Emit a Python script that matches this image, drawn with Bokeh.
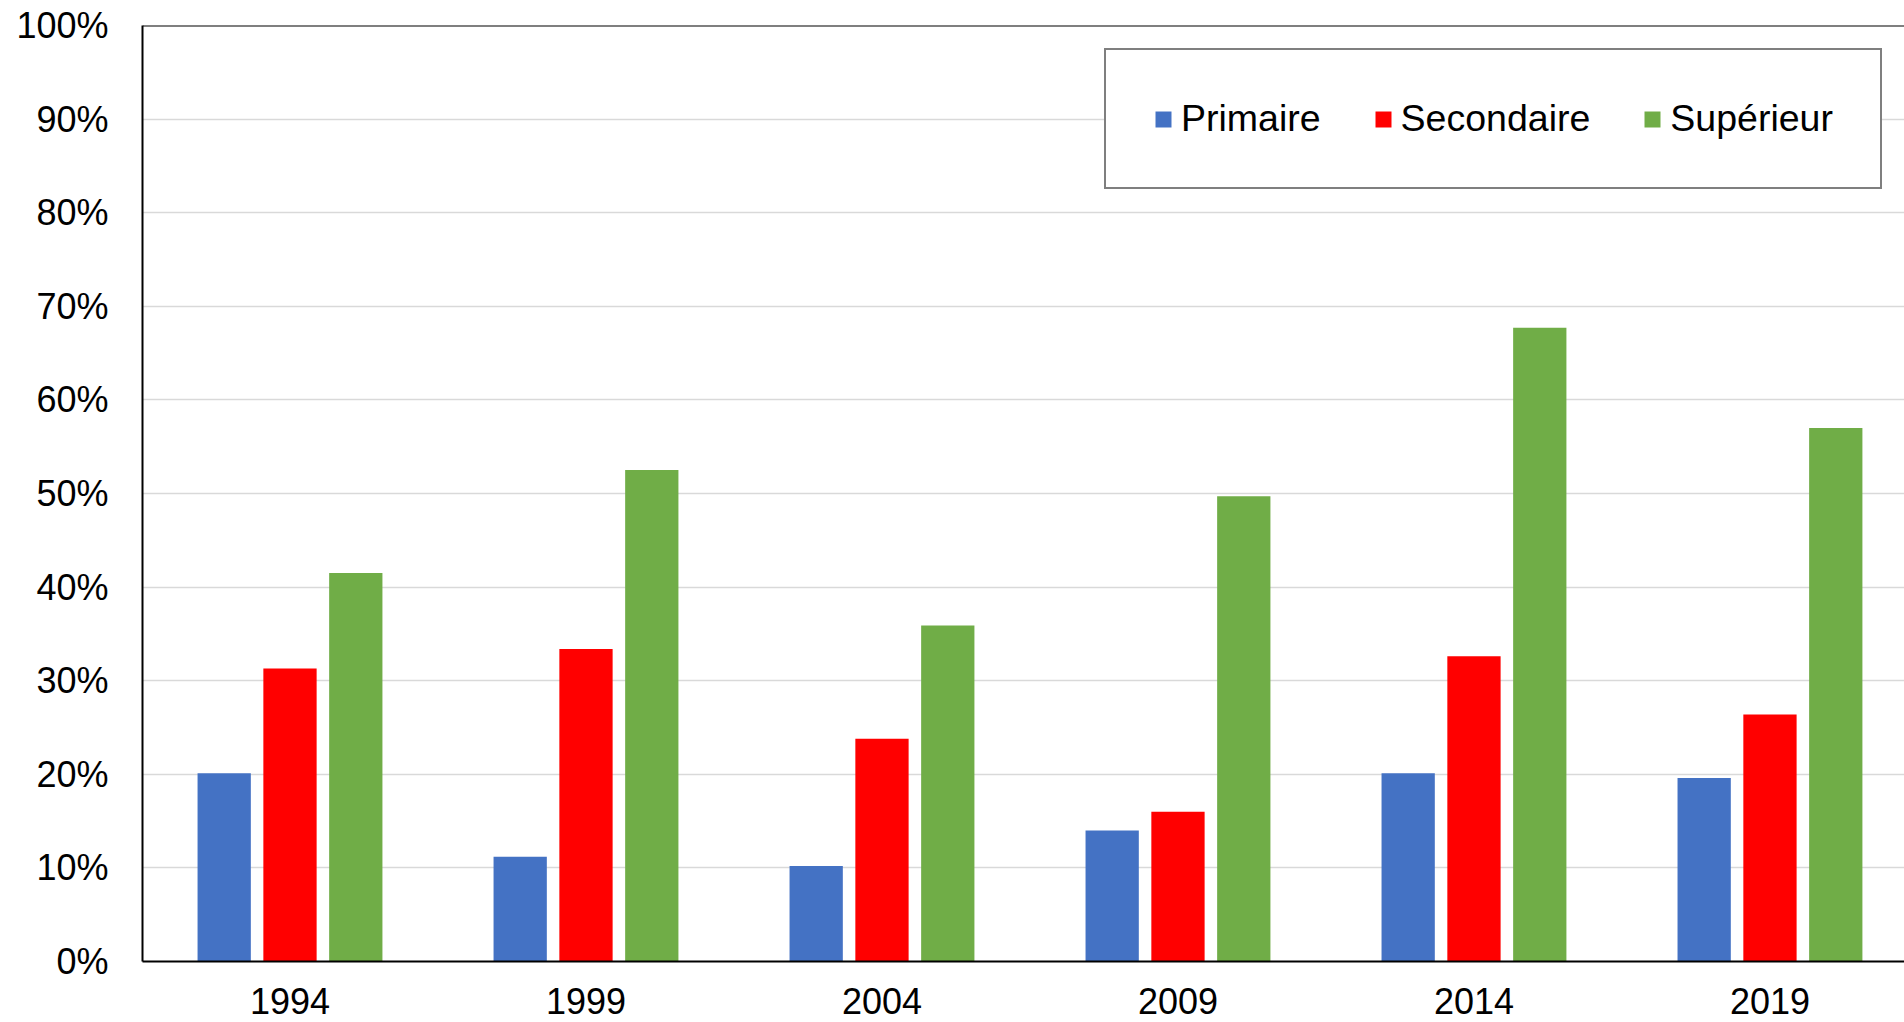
from bokeh.plotting import figure
from bokeh.models import ColumnDataSource, FixedTicker, PrintfTickFormatter, Legend, LegendItem, Span
from bokeh.transform import dodge
from bokeh.embed import file_html
from bokeh.resources import INLINE

years = ["1994", "1999", "2004", "2009", "2014", "2019"]
primaire = [20.1, 11.2, 10.2, 14.0, 20.1, 19.6]
secondaire = [31.3, 33.4, 23.8, 16.0, 32.6, 26.4]
superieur = [41.5, 52.5, 35.9, 49.7, 67.7, 57.0]
series_names = ["Primaire", "Secondaire", "Supérieur"]
colors = ["#4472C4", "#FF0000", "#70AD47"]
y_ticks = list(range(0, 101, 10))

FONT = "Liberation Sans"

x = list(range(len(years)))
src = ColumnDataSource(dict(x=x, p=primaire, s=secondaire, g=superieur))

p = figure(width=1904, height=1022, output_backend="svg", toolbar_location=None,
           x_range=(-0.4983, 5.4545), y_range=(0, 100),
           min_border_left=142, min_border_right=0, min_border_top=25, min_border_bottom=61)

off = 0.2223
bw = 0.18
r1 = p.vbar(x=dodge("x", -off), top="p", width=bw, source=src, fill_color=colors[0], line_color=None)
r2 = p.vbar(x=dodge("x", 0.0), top="s", width=bw, source=src, fill_color=colors[1], line_color=None)
r3 = p.vbar(x=dodge("x", off), top="g", width=bw, source=src, fill_color=colors[2], line_color=None)

# axes
p.xaxis.ticker = FixedTicker(ticks=x)
p.xaxis.major_label_overrides = {i: y for i, y in enumerate(years)}
p.xaxis.major_tick_line_color = None
p.xaxis.minor_tick_line_color = None
p.xaxis.major_tick_out = 0
p.xaxis.major_tick_in = 0
p.xaxis.major_label_standoff = 26
p.xaxis.major_label_text_line_height = 0.9
p.xaxis.major_label_text_font = FONT
p.xaxis.major_label_text_font_size = "36px"
p.xaxis.major_label_text_color = "black"
p.xaxis.axis_line_color = "black"
p.xaxis.axis_line_width = 2

p.yaxis.ticker = FixedTicker(ticks=y_ticks)
p.yaxis.formatter = PrintfTickFormatter(format="%d%%")
p.yaxis.major_tick_line_color = None
p.yaxis.minor_tick_line_color = None
p.yaxis.major_tick_out = 0
p.yaxis.major_tick_in = 0
p.yaxis.major_label_standoff = 34
p.yaxis.major_label_text_font = FONT
p.yaxis.major_label_text_font_size = "36px"
p.yaxis.major_label_text_color = "black"
p.yaxis.axis_line_color = "black"
p.yaxis.axis_line_width = 2

p.xgrid.grid_line_color = None
p.ygrid.grid_line_color = "#D9D9D9"
p.ygrid.grid_line_width = 1.5

p.outline_line_color = None
p.add_layout(Span(location=100, dimension="width", line_color="black", line_width=2))
p.background_fill_color = "white"
p.border_fill_color = "white"

legend = Legend(items=[LegendItem(label=series_names[0], renderers=[r1]),
                       LegendItem(label=series_names[1], renderers=[r2]),
                       LegendItem(label=series_names[2], renderers=[r3])],
                orientation="horizontal", location=(962, 772), margin=0,
                padding=47, spacing=52, glyph_width=20, glyph_height=20, label_standoff=8,
                label_text_font=FONT, label_text_font_size="37.5px", label_text_color="black",
                border_line_color="black", border_line_width=2,
                background_fill_color="white", background_fill_alpha=1.0)
p.add_layout(legend)

open("out.html", "w").write(file_html(p, INLINE))
